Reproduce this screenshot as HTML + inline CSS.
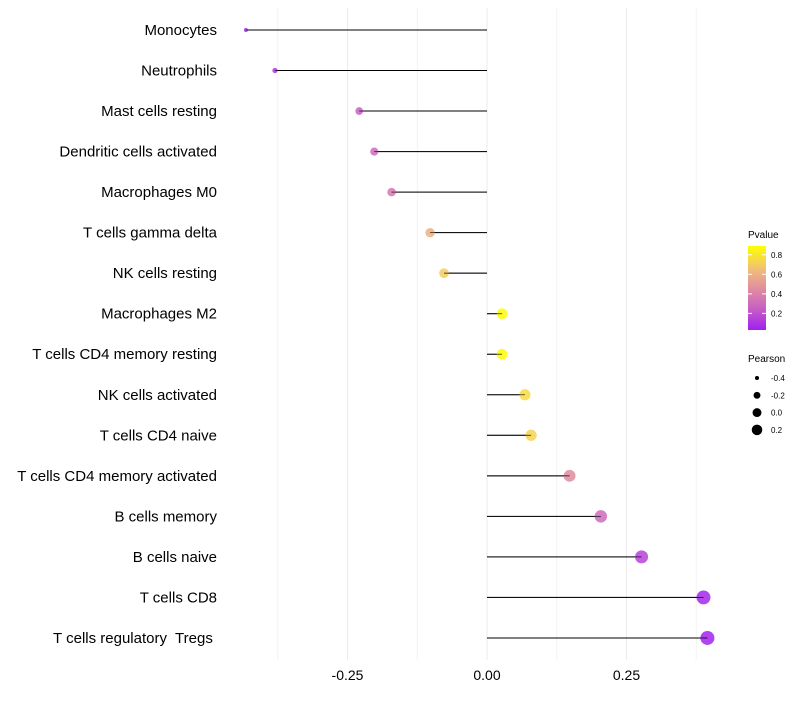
<!DOCTYPE html>
<html><head><meta charset="utf-8"><style>
body{margin:0;background:#fff;font-family:"Liberation Sans",sans-serif}
text{white-space:pre}
</style></head><body>
<svg id="chart" width="800" height="700" xmlns="http://www.w3.org/2000/svg"></svg>
<script>
const categories=["Monocytes","Neutrophils","Mast cells resting","Dendritic cells activated","Macrophages M0","T cells gamma delta","NK cells resting","Macrophages M2","T cells CD4 memory resting","NK cells activated","T cells CD4 naive","T cells CD4 memory activated","B cells memory","B cells naive","T cells CD8","T cells regulatory  Tregs "];
const pearson=[-0.432,-0.380,-0.229,-0.202,-0.171,-0.102,-0.077,0.027,0.027,0.068,0.079,0.148,0.204,0.277,0.388,0.395];
const pvalues=[0.05,0.1,0.25,0.3,0.36,0.6,0.7,0.88,0.88,0.76,0.73,0.45,0.3,0.15,0.05,0.04];
const xTicks=[-0.25,0,0.25];
const xTickLabels=["-0.25","0.00","0.25"];
const minorTicks=[-0.375,-0.125,0.125,0.375];
const pLegendTicks=[0.2,0.4,0.6,0.8];
const sizeLegendTicks=[-0.4,-0.2,0.0,0.2];

const svg=document.getElementById('chart');
const NS="http://www.w3.org/2000/svg";
function mk(t,a,p){const e=document.createElementNS(NS,t);for(const k in a)e.setAttribute(k,a[k]);(p||svg).appendChild(e);return e;}
const x=v=>487+v*558;
const y=i=>30+i*40.53;
const r=v=>Math.sqrt(Math.max(1,4+(v+0.432)*54.4));
const stops=[[0.03,[160,32,240]],[0.25,[200,96,196]],[0.45,[224,140,160]],[0.65,[240,190,120]],[0.89,[255,255,0]]];
function col(p){if(p<=stops[0][0])return 'rgb('+stops[0][1]+')';for(let i=1;i<stops.length;i++){if(p<=stops[i][0]){const a=stops[i-1],b=stops[i],t=(p-a[0])/(b[0]-a[0]);return 'rgb('+a[1].map((c,j)=>Math.round(c+(b[1][j]-c)*t)).join(',')+')';}}return 'rgb(255,255,0)';}

const grid=mk('g',{});
minorTicks.forEach(v=>mk('line',{x1:x(v),x2:x(v),y1:8,y2:660,stroke:'#f4f4f4','stroke-width':1},grid));
xTicks.forEach((v,i)=>{mk('line',{x1:x(v),x2:x(v),y1:8,y2:660,stroke:'#ebebeb','stroke-width':1},grid);
 const t=mk('text',{x:x(v),y:680,'text-anchor':'middle','font-size':14,fill:'#000'});t.textContent=xTickLabels[i];
 });

categories.forEach((c,i)=>{
 const t=mk('text',{x:217,y:y(i)+5,'text-anchor':'end','font-size':15,fill:'#000'});t.textContent=c;
 
 const l=mk('line',{x1:x(0),x2:x(pearson[i]),y1:y(i),y2:y(i),stroke:'#000','stroke-width':1});
 
 const d=mk('circle',{cx:x(pearson[i]),cy:y(i),r:r(pearson[i]),fill:col(pvalues[i]),'fill-opacity':0.85});
 
 const l2=mk('line',{x1:x(0),x2:x(pearson[i]),y1:y(i),y2:y(i),stroke:'#000','stroke-width':0.8,opacity:0.7});
 
});

const lg=mk('g',{});
const tt=mk('text',{x:748,y:238,'font-size':10,fill:'#000'},lg);tt.textContent='Pvalue';
const defs=mk('defs',{});const gr=mk('linearGradient',{id:'pg',x1:0,y1:1,x2:0,y2:0},defs);
stops.forEach(s=>mk('stop',{offset:(s[0]-0.03)/(0.86),'stop-color':'rgb('+s[1]+')'},gr));
mk('rect',{x:748,y:246,width:18,height:84,fill:'url(#pg)'},lg);
const py=p=>330-(p-0.03)/0.86*84;
pLegendTicks.forEach(p=>{mk('line',{x1:748,x2:752,y1:py(p),y2:py(p),stroke:'#fff'},lg);mk('line',{x1:762,x2:766,y1:py(p),y2:py(p),stroke:'#fff'},lg);
 const t=mk('text',{x:771,y:py(p)+3,'font-size':8,fill:'#000'},lg);t.textContent=p.toFixed(1);});
const sg=mk('g',{});
const st=mk('text',{x:748,y:362,'font-size':10,fill:'#000'},sg);st.textContent='Pearson';
sizeLegendTicks.forEach((v,i)=>{const cy=378+i*17.3;mk('circle',{cx:757,cy:cy,r:r(v)*0.85,fill:'#000'},sg);
 const t=mk('text',{x:771,y:cy+3,'font-size':8,fill:'#000'},sg);t.textContent=v.toFixed(1);});
</script>
</body></html>
